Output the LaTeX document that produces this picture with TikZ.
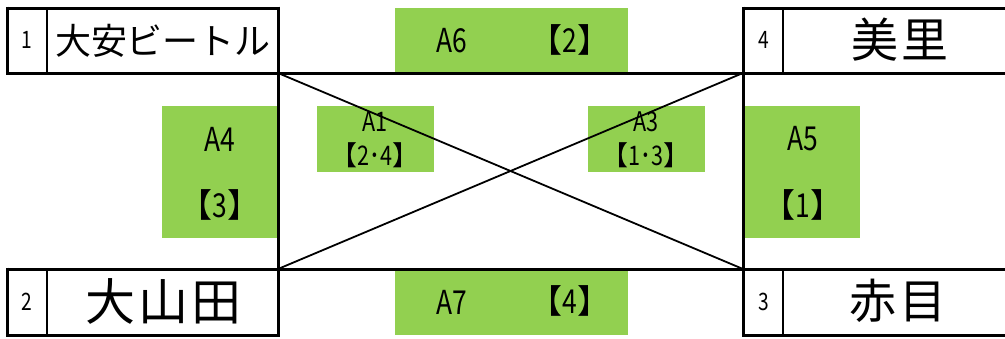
\documentclass[tikz,border=0pt]{standalone}
\usepackage{fontspec}
\usepackage{graphicx}
\setmainfont{Noto Sans CJK JP}
\definecolor{grn}{HTML}{92D050}
\newcommand{\fs}[1]{\fontsize{#1}{#1}\selectfont}
\newcommand{\nar}[1]{\scalebox{0.8}[1]{#1}}
\begin{document}
\begin{tikzpicture}[x=1pt,y=-1pt,
  gbox/.style={fill=grn,draw=none},
  thick line/.style={line width=3pt},
  thin line/.style={line width=1.3pt},
  diag/.style={line width=1.8pt},
  lbl/.style={inner sep=0pt,anchor=center},
  num/.style={lbl,font=\fs{24}},
  team/.style={lbl},
  game/.style={lbl,font=\fs{33}},
  small game/.style={lbl,font=\fs{27}}]
\useasboundingbox (0,0) rectangle (1005,338);
% green boxes
\fill[gbox] (395,8) rectangle (628,72);
\fill[gbox] (395,270) rectangle (628,335);
\fill[gbox] (162,106) rectangle (278,238);
\fill[gbox] (745,106) rectangle (860,238);
\fill[gbox] (317,106) rectangle (434,172);
\fill[gbox] (588,106) rectangle (705,172);
% coordinates
\coordinate (TL) at (278,73);
\coordinate (TR) at (743,73);
\coordinate (BL) at (278,269);
\coordinate (BR) at (743,269);
% texts
\node[num] (n1) at (27,40) {\nar{1}};
\node[num] (n2) at (27,302) {\nar{2}};
\node[num] (n3) at (764,302) {\nar{3}};
\node[num] (n4) at (764,40) {\nar{4}};
\node[team,font=\fs{36}] (t1) at (163,41) {大安ビートル};
\node[team,font=\fs{50}] (t2) at (163,301) {大\hspace{3pt}山\hspace{3pt}田};
\node[team,font=\fs{47}] (t3) at (898,301) {赤\hspace{3pt}目};
\node[team,font=\fs{47}] (t4) at (900,40) {美\hspace{3pt}里};
\node[game] (a6) at (452,41) {\nar{A6}};
\node[game] (a6r) at (570,40) {【\nar{2}】};
\node[game] (a7) at (452,302) {\nar{A7}};
\node[game] (a7r) at (570,301) {【\nar{4}】};
\node[game] (a4) at (220,139) {\nar{A4}};
\node[game] (a4r) at (220,205) {【\nar{3}】};
\node[game] (a5) at (803,139) {\nar{A5}};
\node[game] (a5r) at (803,205) {【\nar{1}】};
\node[small game] (a1) at (375,122) {\nar{A1}};
\node[small game] (a1r) at (375,155) {【\nar{2･4}】};
\node[small game] (a3) at (646,122) {\nar{A3}};
\node[small game] (a3r) at (646,155) {【\nar{1･3}】};
% lines
\draw[diag] (TL) -- (BR);
\draw[diag] (BL) -- (TR);
\draw[thick line] (7,73) -- (1005,73);
\draw[thick line] (7,269) -- (1005,269);
\draw[thick line] (7,8) -- (278,8);
\draw[thick line] (743,8) -- (1005,8);
\draw[thick line] (7,335) -- (278,335);
\draw[thick line] (743,335) -- (1005,335);
\draw[thick line] (7,6.5) -- (7,74.5);
\draw[thick line] (7,267.5) -- (7,336.5);
\draw[thick line] (278,6.5) -- (278,336.5);
\draw[thick line] (743,6.5) -- (743,336.5);
\draw[thin line] (47,8) -- (47,73);
\draw[thin line] (47,269) -- (47,335);
\draw[thin line] (783,8) -- (783,73);
\draw[thin line] (783,269) -- (783,335);
\end{tikzpicture}
\end{document}
